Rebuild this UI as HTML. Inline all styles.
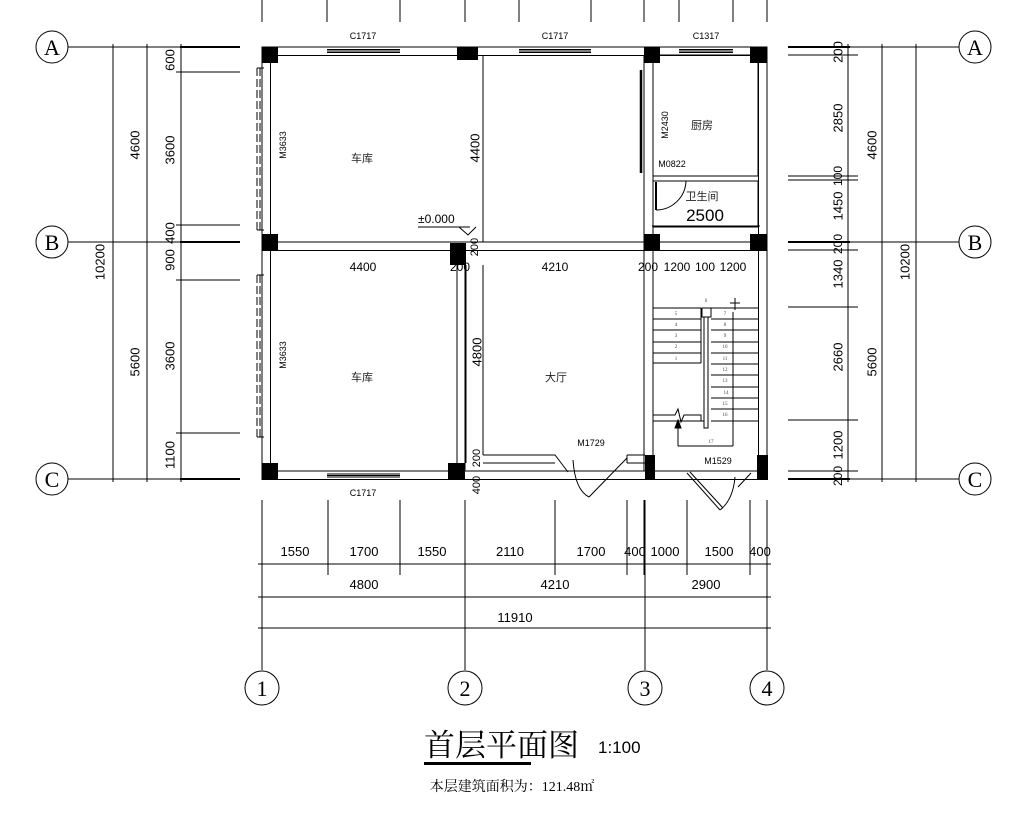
<!DOCTYPE html>
<html><head><meta charset="utf-8"><style>
html,body{margin:0;padding:0;background:#fff;}
svg{display:block;}
.d{font-family:"Liberation Sans Narrow","Liberation Sans",sans-serif;font-size:13px;fill:#000;}
.s{font-family:"Liberation Sans Narrow","Liberation Sans",sans-serif;font-size:9px;fill:#000;}
.c{font-family:"Liberation Sans","Noto Sans CJK SC",sans-serif;font-size:11px;fill:#222;}
.t{font-family:"Liberation Serif",serif;font-size:5px;fill:#444;}
</style></head><body>
<svg width="1014" height="815" viewBox="0 0 1014 815" xmlns="http://www.w3.org/2000/svg">
<g stroke="#000" stroke-width="1" fill="none">
<line x1="68" y1="47" x2="240" y2="47"/><line x1="68" y1="242" x2="240" y2="242"/><line x1="68" y1="479" x2="240" y2="479"/>
<line x1="180" y1="47" x2="240" y2="47" stroke-width="2"/><line x1="180" y1="242" x2="240" y2="242" stroke-width="2"/><line x1="180" y1="479" x2="240" y2="479" stroke-width="2"/>
<line x1="788" y1="47" x2="959" y2="47"/><line x1="788" y1="242" x2="959" y2="242"/><line x1="788" y1="479" x2="959" y2="479"/>
<line x1="788" y1="47" x2="850" y2="47" stroke-width="2"/><line x1="788" y1="242" x2="850" y2="242" stroke-width="2"/><line x1="788" y1="479" x2="850" y2="479" stroke-width="2"/>
<circle cx="52" cy="47" r="16"/><circle cx="52" cy="242" r="16"/><circle cx="52" cy="479" r="16"/>
<circle cx="975" cy="47" r="16"/><circle cx="975" cy="242" r="16"/><circle cx="975" cy="479" r="16"/>
<line x1="113" y1="44" x2="113" y2="482"/><line x1="147" y1="44" x2="147" y2="482"/><line x1="181" y1="44" x2="181" y2="482"/>
<line x1="176" y1="72" x2="240" y2="72"/><line x1="176" y1="225" x2="240" y2="225"/><line x1="176" y1="280" x2="240" y2="280"/><line x1="176" y1="433" x2="240" y2="433"/>
<line x1="848" y1="44" x2="848" y2="482"/><line x1="882" y1="44" x2="882" y2="482"/><line x1="916" y1="44" x2="916" y2="482"/>
<line x1="788" y1="55" x2="858" y2="55"/><line x1="788" y1="176" x2="858" y2="176"/><line x1="788" y1="180" x2="858" y2="180"/><line x1="788" y1="250" x2="858" y2="250"/><line x1="788" y1="307" x2="858" y2="307"/><line x1="788" y1="420" x2="858" y2="420"/><line x1="788" y1="471" x2="858" y2="471"/>
<path d="M262 0V22M327 0V22M400 0V22M465 0V22M519 0V22M591 0V22M644 0V22M679 0V22M733 0V22M767 0V22"/>
<path d="M328 500V575M400 500V575M555 500V575M627 500V575M687 500V575M750 500V575M644 500V575M767 500V640"/>
<path d="M262 500V670M465 500V670M645 500V670M767 500V670"/>
<line x1="258" y1="564" x2="771" y2="564"/><line x1="258" y1="597" x2="771" y2="597"/><line x1="258" y1="628" x2="771" y2="628"/>
<circle cx="262" cy="688" r="17"/><circle cx="465" cy="688" r="17"/><circle cx="645" cy="688" r="17"/><circle cx="767" cy="688" r="17"/>
<rect x="262" y="47" width="505" height="8.5"/>
<rect x="262" y="471" width="505" height="8.5"/>
<rect x="262" y="47" width="8.5" height="432"/>
<rect x="758.5" y="47" width="8.5" height="432"/>
<rect x="262" y="242" width="505" height="8.5"/>
<path d="M327 49.5H400M327 51H400M327 52.5H400M519 49.5H591M519 51H591M519 52.5H591M679 49.5H733M679 51H733M679 52.5H733M327 474H400M327 475.5H400M327 477H400"/>
<path d="M257 68V230M260 68V230M257 275V437M260 275V437" stroke-dasharray="8,3"/>
<path d="M257 68H264M257 230H264M257 275H264M257 437H264"/>
<line x1="483" y1="55" x2="483" y2="242"/>
<line x1="457" y1="250" x2="457" y2="471"/><line x1="465" y1="250" x2="465" y2="471"/>
<line x1="466" y1="265" x2="466" y2="463"/><line x1="483" y1="265" x2="483" y2="455"/>
<path d="M483 455H555L568 472M483 463H555"/>
<path d="M627 458L589 497M573 460Q575 490 589 497"/>
<path d="M627 455H645M627 463H645M627 455V463"/>
<line x1="644" y1="55" x2="644" y2="471"/><line x1="653" y1="55" x2="653" y2="471"/>
<rect x="653" y="55" width="105" height="121"/>
<rect x="653" y="181" width="105" height="46"/>
<line x1="641" y1="70" x2="641" y2="173" stroke-width="2.5"/>
<line x1="656" y1="182" x2="656" y2="210" stroke-width="2"/>
<path d="M656 210A30 30 0 0 0 686 181"/>
<line x1="652" y1="226" x2="760" y2="226"/>
<path d="M418 227H470L459 227L468 235L476 227"/>
<path d="M653 308H701M653 319H701M653 330H701M653 342H701M653 353H701M653 363H701M701 308V363"/>
<path d="M711 308H759M711 319H759M711 330H759M711 342H759M711 353H759M711 364H759M711 375H759M711 387H759M711 398H759M711 409H759M711 421H759"/>
<rect x="702" y="308" width="9" height="9"/>
<path d="M704 317V428H708V317"/>
<path d="M653 415H675L678 409L681 422L684 415H701V421M653 421H704"/>
<path d="M678 446V425M733 446V312M678 446H733M735 298V310M730 303H740"/>
<path d="M675 428L678 420L681 428Z" fill="#000"/>
<path d="M687 473L720 510M690 472L723 508"/>
<path d="M720 510Q733 500 735 477"/>
<path d="M738 487L751 473"/>
</g>
<g fill="#000">
<rect x="262" y="47" width="16" height="16"/><rect x="457" y="47" width="21" height="13"/><rect x="644" y="47" width="16" height="16"/><rect x="750" y="47" width="17" height="16"/>
<rect x="262" y="234" width="16" height="17"/><rect x="450" y="243" width="16" height="22"/><rect x="644" y="234" width="16" height="17"/><rect x="750" y="234" width="17" height="17"/>
<rect x="262" y="463" width="16" height="17"/><rect x="448" y="463" width="17" height="17"/><rect x="645" y="455" width="10" height="25"/><rect x="757" y="455" width="11" height="25"/>
</g>
<g class="d">
<text x="100" y="262" transform="rotate(-90 100 262)" text-anchor="middle" dominant-baseline="central">10200</text>
<text x="135" y="145" transform="rotate(-90 135 145)" text-anchor="middle" dominant-baseline="central">4600</text>
<text x="135" y="362" transform="rotate(-90 135 362)" text-anchor="middle" dominant-baseline="central">5600</text>
<text x="170" y="60" transform="rotate(-90 170 60)" text-anchor="middle" dominant-baseline="central">600</text>
<text x="170" y="150" transform="rotate(-90 170 150)" text-anchor="middle" dominant-baseline="central">3600</text>
<text x="170" y="233" transform="rotate(-90 170 233)" text-anchor="middle" dominant-baseline="central">400</text>
<text x="170" y="260" transform="rotate(-90 170 260)" text-anchor="middle" dominant-baseline="central">900</text>
<text x="170" y="356" transform="rotate(-90 170 356)" text-anchor="middle" dominant-baseline="central">3600</text>
<text x="170" y="455" transform="rotate(-90 170 455)" text-anchor="middle" dominant-baseline="central">1100</text>
<text x="838" y="52" transform="rotate(-90 838 52)" text-anchor="middle" dominant-baseline="central">200</text>
<text x="838" y="118" transform="rotate(-90 838 118)" text-anchor="middle" dominant-baseline="central">2850</text>
<text x="838" y="176" transform="rotate(-90 838 176)" text-anchor="middle" dominant-baseline="central" font-size="12">100</text>
<text x="838" y="206" transform="rotate(-90 838 206)" text-anchor="middle" dominant-baseline="central">1450</text>
<text x="838" y="244" transform="rotate(-90 838 244)" text-anchor="middle" dominant-baseline="central" font-size="12">200</text>
<text x="838" y="274" transform="rotate(-90 838 274)" text-anchor="middle" dominant-baseline="central">1340</text>
<text x="838" y="357" transform="rotate(-90 838 357)" text-anchor="middle" dominant-baseline="central">2660</text>
<text x="838" y="445" transform="rotate(-90 838 445)" text-anchor="middle" dominant-baseline="central">1200</text>
<text x="838" y="476" transform="rotate(-90 838 476)" text-anchor="middle" dominant-baseline="central" font-size="12">200</text>
<text x="872" y="145" transform="rotate(-90 872 145)" text-anchor="middle" dominant-baseline="central">4600</text>
<text x="872" y="362" transform="rotate(-90 872 362)" text-anchor="middle" dominant-baseline="central">5600</text>
<text x="905" y="262" transform="rotate(-90 905 262)" text-anchor="middle" dominant-baseline="central">10200</text>
<text x="475" y="148" transform="rotate(-90 475 148)" text-anchor="middle" dominant-baseline="central">4400</text>
<text x="477" y="352" transform="rotate(-90 477 352)" text-anchor="middle" dominant-baseline="central">4800</text>
<text x="475" y="247" transform="rotate(-90 475 247)" text-anchor="middle" dominant-baseline="central" font-size="11">200</text>
<text x="477" y="458" transform="rotate(-90 477 458)" text-anchor="middle" dominant-baseline="central" font-size="11">200</text>
<text x="477" y="485" transform="rotate(-90 477 485)" text-anchor="middle" dominant-baseline="central" font-size="11">400</text>
<g font-size="12" text-anchor="middle">
<text x="363" y="271">4400</text><text x="460" y="271">200</text><text x="555" y="271">4210</text><text x="648" y="271">200</text><text x="677" y="271">1200</text><text x="705" y="271">100</text><text x="733" y="271">1200</text>
</g>
<text x="705" y="221" text-anchor="middle" font-size="17">2500</text>
<text x="418" y="223" font-size="12">±0.000</text>
<g text-anchor="middle">
<text x="295" y="556">1550</text><text x="364" y="556">1700</text><text x="432" y="556">1550</text><text x="510" y="556">2110</text><text x="591" y="556">1700</text><text x="635" y="556">400</text><text x="665" y="556">1000</text><text x="719" y="556">1500</text><text x="760" y="556">400</text>
<text x="364" y="589">4800</text><text x="555" y="589">4210</text><text x="706" y="589">2900</text>
<text x="515" y="622">11910</text>
</g>
<text x="598" y="753" font-size="17">1:100</text>
</g>
<g class="s" text-anchor="middle">
<text x="363" y="39">C1717</text><text x="555" y="39">C1717</text><text x="706" y="39">C1317</text><text x="363" y="496">C1717</text>
<text x="591" y="446">M1729</text><text x="718" y="464">M1529</text>
<text x="672" y="167">M0822</text>
<text x="283" y="145" transform="rotate(-90 283 145)" dominant-baseline="central">M3633</text>
<text x="283" y="355" transform="rotate(-90 283 355)" dominant-baseline="central">M3633</text>
<text x="665" y="125" transform="rotate(-90 665 125)" dominant-baseline="central">M2430</text>
</g>
<g class="c" text-anchor="middle">
<text x="362" y="162">车库</text><text x="362" y="381">车库</text><text x="556" y="381">大厅</text><text x="702" y="129">厨房</text><text x="702" y="200">卫生间</text>
</g>
<g class="t" text-anchor="middle">
<text x="676" y="315">5</text><text x="676" y="326">4</text><text x="676" y="337">3</text><text x="676" y="348">2</text><text x="676" y="360">1</text>
<text x="706" y="302">6</text>
<text x="725" y="315">7</text><text x="725" y="326">8</text><text x="725" y="337">9</text><text x="725" y="348">10</text><text x="725" y="360">11</text><text x="725" y="371">12</text><text x="725" y="382">13</text><text x="726" y="394">14</text><text x="725" y="405">15</text><text x="725" y="416">16</text><text x="711" y="443">17</text>
</g>
<g font-family="Liberation Serif,serif" font-size="22" text-anchor="middle" fill="#000">
<text x="52" y="55">A</text><text x="52" y="250">B</text><text x="52" y="487">C</text>
<text x="975" y="55">A</text><text x="975" y="250">B</text><text x="975" y="487">C</text>
<text x="262" y="696">1</text><text x="465" y="696">2</text><text x="645" y="696">3</text><text x="767" y="696">4</text>
</g>
<text x="424" y="756" font-family="Liberation Serif,'Noto Serif CJK SC',serif" font-size="31" fill="#000">首层平面图</text>
<rect x="424" y="762" width="107" height="3" fill="#000"/>
<text x="512" y="791" text-anchor="middle" font-family="Liberation Serif,'Noto Serif CJK SC',serif" font-size="14" fill="#000">本层建筑面积为：121.48㎡</text>
</svg>
</body></html>
